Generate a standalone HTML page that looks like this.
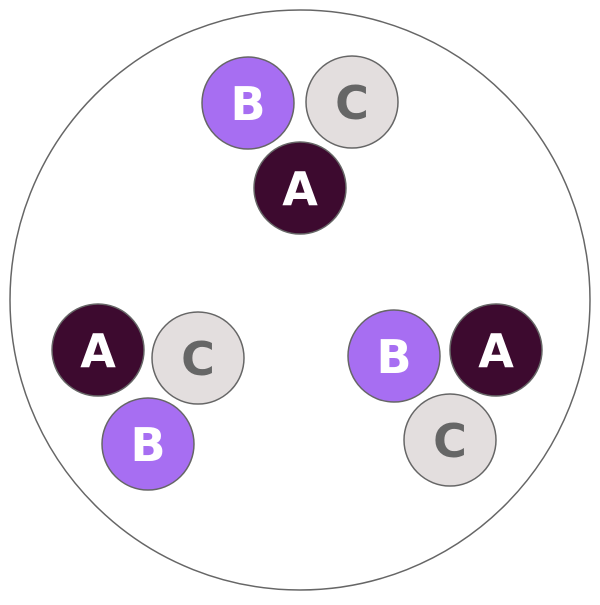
<!DOCTYPE html>
<html><head><style>body{margin:0;background:#fff}</style></head><body>
<svg width="600" height="600" viewBox="0 0 600 600" xmlns="http://www.w3.org/2000/svg" font-family="DejaVu Sans, sans-serif" font-weight="bold" font-size="46" text-anchor="middle">
<circle cx="300" cy="300" r="290" fill="#fff" stroke="#666" stroke-width="1.5"/>
<g stroke="#666" stroke-width="1.5">
<circle cx="248" cy="103" r="46" fill="#a76ef2"/>
<circle cx="352" cy="102" r="46" fill="#e3dede"/>
<circle cx="300" cy="188" r="46" fill="#3d0a2f"/>
<circle cx="98" cy="350" r="46" fill="#3d0a2f"/>
<circle cx="198" cy="358" r="46" fill="#e3dede"/>
<circle cx="148" cy="444" r="46" fill="#a76ef2"/>
<circle cx="394" cy="356" r="46" fill="#a76ef2"/>
<circle cx="496" cy="350" r="46" fill="#3d0a2f"/>
<circle cx="450" cy="440" r="46" fill="#e3dede"/>
</g>
<g dominant-baseline="central">
<text x="248" y="104" fill="#fff">B</text>
<text x="352" y="103" fill="#666">C</text>
<text x="300" y="189" fill="#fff">A</text>
<text x="98" y="351" fill="#fff">A</text>
<text x="198" y="359" fill="#666">C</text>
<text x="148" y="445" fill="#fff">B</text>
<text x="394" y="357" fill="#fff">B</text>
<text x="496" y="351" fill="#fff">A</text>
<text x="450" y="441" fill="#666">C</text>
</g>
</svg>
</body></html>
